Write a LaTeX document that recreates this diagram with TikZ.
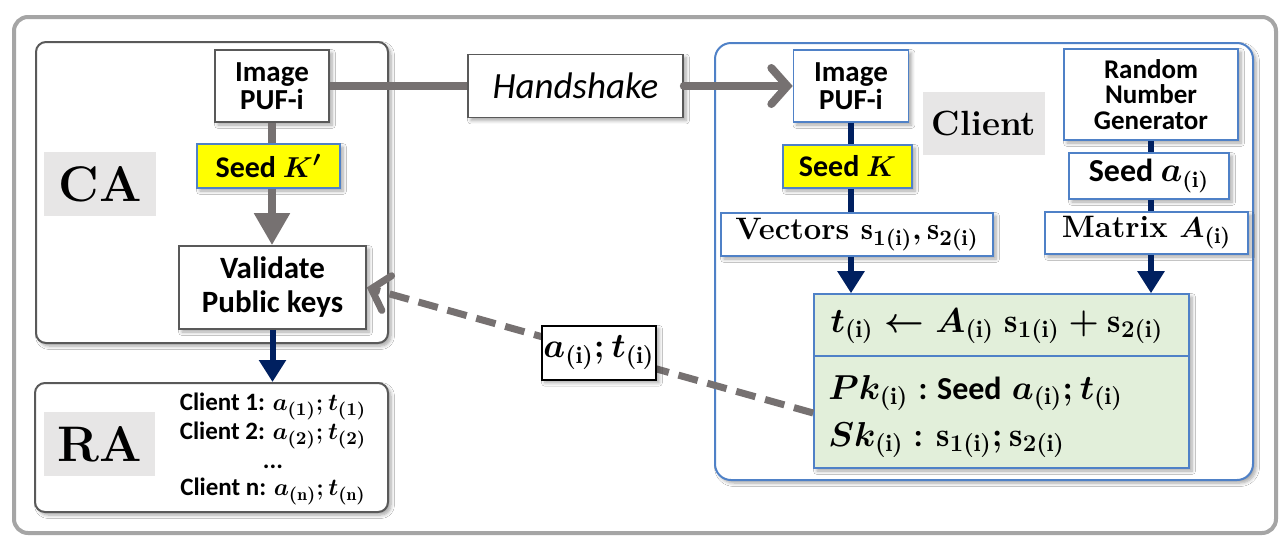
\documentclass[tikz,border=0pt]{standalone}
\usepackage{fontspec}
\newfontfamily\calfont{Carlito}
\usetikzlibrary{arrows.meta,shadows.blur}
\definecolor{arrowgray}{RGB}{118,113,113}
\definecolor{navyline}{RGB}{0,32,96}
\definecolor{bordblue}{RGB}{79,129,199}
\definecolor{boxgray}{RGB}{89,89,89}
\definecolor{taggray}{RGB}{231,230,230}
\definecolor{keygreen}{RGB}{226,239,218}
\definecolor{seedyellow}{RGB}{255,255,0}
\definecolor{framegray}{RGB}{165,165,165}
\newcommand\fsz[2]{\fontsize{#1}{#2}\selectfont}
\newcommand\subi{_{(\mathrm{i})}}
\newcommand\seedkp{Seed $K^{\prime}$}
\begin{document}
\begin{tikzpicture}[x=0.5pt,y=-0.5pt,
  softshadow/.style={blur shadow={shadow xshift=1.5pt,shadow yshift=-1.5pt,shadow blur steps=6,shadow opacity=35}},
  container/.style={draw=boxgray,line width=1pt,fill=white,rounded corners=5pt,softshadow},
  clientbox/.style={draw=bordblue,line width=1pt,fill=white,rounded corners=8pt,softshadow},
  gbox/.style={draw=boxgray,line width=0.8pt,fill=white,inner sep=0pt,align=center,softshadow},
  bbox/.style={draw=bordblue,line width=0.8pt,fill=white,inner sep=0pt,align=center,softshadow},
  ybox/.style={bbox,fill=seedyellow},
  tag/.style={fill=taggray,inner sep=0pt},
  grayline/.style={draw=arrowgray,line width=4pt},
  grayarrow/.style={grayline,-{Triangle[width=17pt,length=16pt]}},
  navyline/.style={draw=navyline,line width=3pt},
  navyarrow/.style={navyline,-{Triangle[width=13pt,length=11pt]}},
  openarrow/.style={draw=arrowgray,line width=4pt,line cap=round,-{Straight Barb[length=8pt,width=18pt,line cap=round]}},
  dasharrow/.style={draw=arrowgray,line width=3.5pt,dash pattern=on 10pt off 5pt,-{Straight Barb[length=8pt,width=18pt,line cap=round]}},
  msgbox/.style={draw=black,solid,line width=0.8pt,fill=white,inner sep=0pt,softshadow}
]
\useasboundingbox (0,0) rectangle (1281,537);
\fill[white] (0,0) rectangle (1281,537);

% frame and containers
\draw[draw=framegray,line width=2pt,rounded corners=7pt] (14,17) rectangle (1276,533);
\node[container,minimum width=176pt,minimum height=150.5pt] (ca) at (212,192.5) {};
\node[container,minimum width=176.5pt,minimum height=64.5pt] (ra) at (211.5,447.5) {};
\node[clientbox,minimum width=269pt,minimum height=218.5pt] (client) at (984,261.5) {};

% CA side
\node[tag,minimum width=56pt,minimum height=32pt,font=\bfseries\fsz{25}{27}] (calbl) at (100,184) {CA};
\node[gbox,minimum width=57pt,minimum height=36pt,font=\calfont\bfseries\fsz{14.5}{14}] (puf1) at (272,86) {Image\\PUF-i};
\node[ybox,minimum width=71.5pt,minimum height=22pt,font=\calfont\bfseries\boldmath\fsz{15}{16}] (seed1) at (268.5,166) {\seedkp};
\node[gbox,minimum width=93.5pt,minimum height=41.5pt,font=\calfont\bfseries\fsz{15.5}{17}] (valid) at (272.5,287.5) {Validate\\Public keys};

% RA side
\node[tag,minimum width=55.5pt,minimum height=32pt,font=\bfseries\fsz{25}{27}] (ralbl) at (99.5,444) {RA};
\node[align=center,inner sep=0pt,font=\calfont\bfseries\boldmath\fsz{12.5}{12.5}] (reg) at (273,449)
  {Client 1: $a_{(1)}; t_{(1)}$\\
   Client 2: $a_{(2)}; t_{(2)}$\\[2pt]
   ...\\[1pt]
   Client n: $a_{(\mathrm{n})}; t_{(\mathrm{n})}$};

% handshake
\node[gbox,minimum width=107.5pt,minimum height=31.5pt,font=\calfont\itshape\fsz{18.5}{20}] (hs) at (575.5,86) {Handshake};

% client side
\node[bbox,minimum width=57.5pt,minimum height=36pt,font=\calfont\bfseries\fsz{14.5}{14}] (puf2) at (851,86) {Image\\PUF-i};
\node[tag,minimum width=61pt,minimum height=31.5pt,font=\bfseries\fsz{17.5}{19}] (clbl) at (984,123.5) {Client};
\node[bbox,minimum width=87pt,minimum height=45.5pt,font=\calfont\bfseries\fsz{13.5}{12.6}] (rng) at (1151,94.5) {Random\\Number\\Generator};
\node[ybox,minimum width=64.5pt,minimum height=21.5pt,font=\calfont\bfseries\boldmath\fsz{15}{16}] (seed2) at (847.5,166.5) {Seed $K$};
\node[bbox,minimum width=80pt,minimum height=23pt,font=\calfont\bfseries\boldmath\fsz{16}{17}] (seeda) at (1149,176) {Seed $a\subi$};
\node[bbox,minimum width=136pt,minimum height=21.5pt,font=\bfseries\boldmath\fsz{15.5}{17}] (vect) at (857,234.5) {Vectors $\mathrm{s}_{1(\mathrm{i})}, \mathrm{s}_{2(\mathrm{i})}$};
\node[bbox,minimum width=101.5pt,minimum height=21pt,font=\bfseries\boldmath\fsz{15.5}{17}] (matrix) at (1146.5,233) {Matrix $A\subi$};

% key generation box
\node[draw=bordblue,line width=0.8pt,fill=keygreen,softshadow,minimum width=187.5pt,minimum height=87pt,inner sep=0pt] (green) at (1001.5,381) {};
\draw[draw=bordblue,line width=0.8pt] ([yshift=-31.5pt]green.north west) -- ([yshift=-31.5pt]green.north east);
\node[inner sep=0pt,font=\boldmath\fsz{17}{19}] (eq) at (997,326)
  {$t\subi \leftarrow A\subi\ \mathrm{s}_{1(\mathrm{i})} + \mathrm{s}_{2(\mathrm{i})}$};
\node[anchor=west,inner sep=0pt,font=\boldmath\fsz{17}{19}] (pk) at (828,393)
  {$Pk\subi$ {\calfont\bfseries\fsz{16}{19}: Seed} $a\subi; t\subi$};
\node[anchor=west,inner sep=0pt,font=\boldmath\fsz{17}{19}] (sk) at (828,440)
  {$Sk\subi$ {\calfont\bfseries\fsz{16}{19}:} $\mathrm{s}_{1(\mathrm{i})}; \mathrm{s}_{2(\mathrm{i})}$};

% connectors, chained from box to box
\draw[grayline] (puf1.south) -- (puf1.south |- seed1.north);
\draw[grayarrow] (puf1.south |- seed1.south) -- (puf1.south |- valid.north);
\draw[navyarrow] (valid.south) -- (valid.south |- ra.north);
\draw[grayline] (puf1.east) -- (hs.west);
\draw[openarrow] (hs.east) -- (puf2.west);
\draw[navyline] (puf2.south) -- (puf2.south |- seed2.north);
\draw[navyline] (puf2.south |- seed2.south) -- (puf2.south |- vect.north);
\draw[navyarrow] (puf2.south |- vect.south) -- (puf2.south |- green.north);
\draw[navyline] (rng.south) -- (rng.south |- seeda.north);
\draw[navyline] (rng.south |- seeda.south) -- (rng.south |- matrix.north);
\draw[navyarrow] (rng.south |- matrix.south) -- (rng.south |- green.north);
\draw[dasharrow] ([yshift=-16pt]green.west) -- node[pos=0.48,msgbox,minimum width=57pt,minimum height=27pt,font=\boldmath\fsz{17}{19}] (msg) {$a\subi; t\subi$} (valid.east);
\end{tikzpicture}
\end{document}
